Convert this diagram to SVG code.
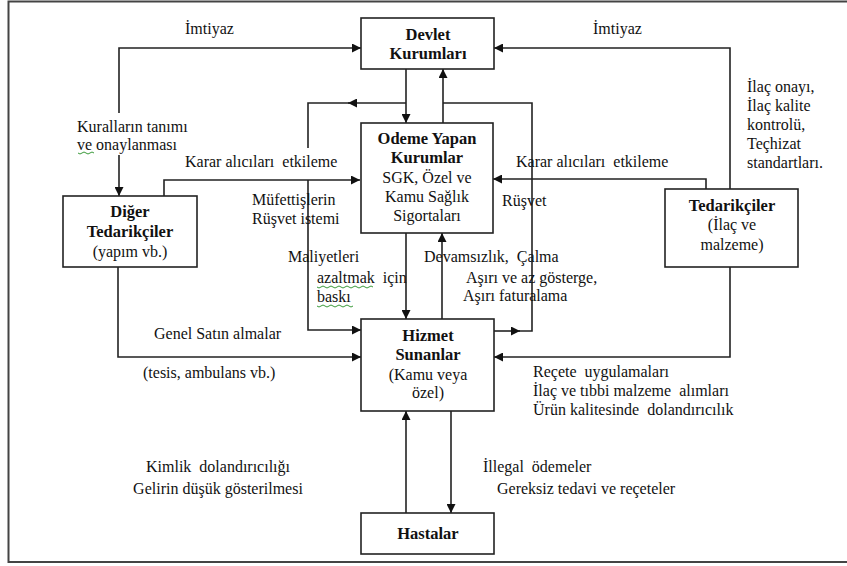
<svg xmlns="http://www.w3.org/2000/svg" width="847" height="566" viewBox="0 0 847 566">
<style>
.box{fill:#fff;stroke:#222;stroke-width:1.6}
.ln{fill:none;stroke:#222;stroke-width:1.6}
.t{font-family:"Liberation Serif","Times New Roman",serif;font-size:16px;fill:#111}
.b{font-family:"Liberation Serif","Times New Roman",serif;font-size:16.5px;font-weight:bold;fill:#111}
.m{text-anchor:middle}
.sq{fill:none;stroke:#3a9a3a;stroke-width:1}
</style>
<defs>
<marker id="ah" viewBox="0 0 10 10" refX="10" refY="5" markerWidth="10" markerHeight="9" markerUnits="userSpaceOnUse" orient="auto">
<path d="M0,0 L10,5 L0,10 z" fill="#111"/>
</marker>
</defs>
<rect width="847" height="566" fill="#fff"/>
<path d="M850,1.5 H8.5 V562 H850" fill="none" stroke="#444" stroke-width="2"/>

<g id="connectors">
<path class="ln" d="M119,113 V48 H361" marker-end="url(#ah)"/>
<path class="ln" d="M119,155 V196" marker-end="url(#ah)"/>
<path class="ln" d="M164,196 V180 H360" marker-end="url(#ah)"/>
<path class="ln" d="M406,69 V123" marker-end="url(#ah)"/>
<path class="ln" d="M443,123 V69" marker-end="url(#ah)"/>
<path class="ln" d="M406,103 H348" marker-end="url(#ah)"/>
<path class="ln" d="M350,103 H308 V148"/>
<path class="ln" d="M308,180 V330 H361" marker-end="url(#ah)"/>
<path class="ln" d="M494,331 H520" marker-end="url(#ah)"/>
<path class="ln" d="M518,331 H532 V103 H443"/>
<path class="ln" d="M706,189 V179 H493" marker-end="url(#ah)"/>
<path class="ln" d="M730,189 V48 H494" marker-end="url(#ah)"/>
<path class="ln" d="M730,267 V357 H494" marker-end="url(#ah)"/>
<path class="ln" d="M118,267 V357 H361" marker-end="url(#ah)"/>
<path class="ln" d="M406,233 V319" marker-end="url(#ah)"/>
<path class="ln" d="M442,319 V233" marker-end="url(#ah)"/>
<path class="ln" d="M406,513 V411" marker-end="url(#ah)"/>
<path class="ln" d="M451,411 V513" marker-end="url(#ah)"/>
</g>

<g id="devlet">
<rect class="box" x="361" y="18" width="133" height="51"/>
<text class="b m" x="428" y="40">Devlet</text>
<text class="b m" x="428" y="59">Kurumları</text>
</g>

<g id="odeme">
<rect class="box" x="361" y="123" width="132" height="110"/>
<text class="b m" x="427" y="144">Odeme Yapan</text>
<text class="b m" x="427" y="163">Kurumlar</text>
<text class="t m" x="427" y="183">SGK, Özel ve</text>
<text class="t m" x="427" y="202">Kamu Sağlık</text>
<text class="t m" x="427" y="221">Sigortaları</text>
</g>

<g id="diger">
<rect class="box" x="63" y="196" width="134" height="71"/>
<text class="b m" x="130" y="217">Diğer</text>
<text class="b m" x="130" y="237">Tedarikçiler</text>
<text class="t m" x="130" y="257">(yapım vb.)</text>
</g>

<g id="tedarikciler">
<rect class="box" x="665" y="189" width="133" height="78"/>
<text class="b m" x="732" y="211">Tedarikçiler</text>
<text class="t m" x="732" y="230">(İlaç ve</text>
<text class="t m" x="732" y="250">malzeme)</text>
</g>

<g id="hizmet">
<rect class="box" x="361" y="319" width="133" height="92"/>
<text class="b m" x="428" y="341">Hizmet</text>
<text class="b m" x="428" y="360">Sunanlar</text>
<text class="t m" x="428" y="380">(Kamu veya</text>
<text class="t m" x="428" y="398">özel)</text>
</g>

<g id="hastalar">
<rect class="box" x="361" y="513" width="133" height="41"/>
<text class="b m" x="428" y="539">Hastalar</text>
</g>

<g id="labels">
<text class="t" x="185" y="34">İmtiyaz</text>
<text class="t" x="593" y="34">İmtiyaz</text>
<text class="t" x="77" y="132">Kuralların  tanımı</text>
<text class="t" x="77" y="150">ve onaylanması</text>
<path class="sq" d="M78,153 q2,2 4,0 q2,-2 4,0 q2,2 4,0 q2,-2 4,0"/>
<text class="t" x="185" y="167" xml:space="preserve">Karar alıcıları  etkileme</text>
<text class="t" x="516" y="167" xml:space="preserve">Karar alıcıları  etkileme</text>
<text class="t" x="747" y="92">İlaç onayı,</text>
<text class="t" x="747" y="111">İlaç kalite</text>
<text class="t" x="747" y="130">kontrolü,</text>
<text class="t" x="747" y="149">Teçhizat</text>
<text class="t" x="747" y="168">standartları.</text>
<text class="t" x="252" y="205">Müfettişlerin</text>
<text class="t" x="252" y="224">Rüşvet istemi</text>
<text class="t" x="502" y="206">Rüşvet</text>
<text class="t" x="288" y="262">Maliyetleri</text>
<text class="t" x="317" y="283" xml:space="preserve">azaltmak  için</text>
<path class="sq" d="M317,287 q2,2 4,0 q2,-2 4,0 q2,2 4,0 q2,-2 4,0 q2,2 4,0 q2,-2 4,0 q2,2 4,0 q2,-2 4,0 q2,2 4,0 q2,-2 4,0 q2,2 4,0 q2,-2 4,0 q2,2 4,0 q2,-2 4,0"/>
<text class="t" x="317" y="302">baskı</text>
<path class="sq" d="M317,306 q2,2 4,0 q2,-2 4,0 q2,2 4,0 q2,-2 4,0 q2,2 4,0 q2,-2 4,0 q2,2 4,0 q2,-2 4,0 q2,2 4,0"/>
<text class="t" x="424" y="262" xml:space="preserve">Devamsızlık,  Çalma</text>
<text class="t" x="466" y="283">Aşırı ve az gösterge,</text>
<text class="t" x="463" y="301">Aşırı faturalama</text>
<text class="t" x="154" y="339">Genel Satın almalar</text>
<text class="t" x="143" y="378">(tesis, ambulans vb.)</text>
<text class="t" x="533" y="377" xml:space="preserve">Reçete  uygulamaları</text>
<text class="t" x="533" y="396" xml:space="preserve">İlaç ve tıbbi malzeme  alımları</text>
<text class="t" x="533" y="415" xml:space="preserve">Ürün kalitesinde  dolandırıcılık</text>
<text class="t m" x="218" y="472" xml:space="preserve">Kimlik  dolandırıcılığı</text>
<text class="t m" x="218" y="494">Gelirin düşük gösterilmesi</text>
<text class="t" x="483" y="472" xml:space="preserve">İllegal  ödemeler</text>
<text class="t" x="497" y="494">Gereksiz tedavi ve reçeteler</text>
</g>
</svg>
